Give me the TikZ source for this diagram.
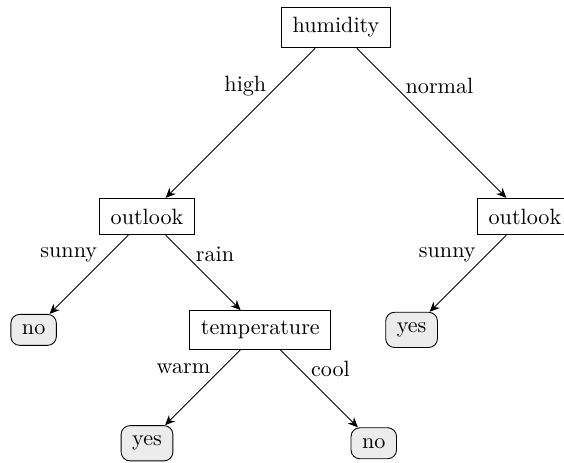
\documentclass[tikz,border=0pt]{standalone}
\usetikzlibrary{arrows.meta}

\begin{document}
\begin{tikzpicture}[
    >={Stealth[length=4.5pt,width=4pt]},
    test/.style={
        draw,
        inner xsep=5pt,
        inner ysep=4.7pt,
    },
    leaf/.style={
        draw,
        rounded corners=4pt,
        fill=gray!15,
        inner xsep=5pt,
        inner ysep=4.7pt,
    },
    branch/.style={->,line width=0.4pt},
    cond/.style={inner sep=5pt,pos=0.25},
]
\useasboundingbox (-5.334,-6.898) rectangle (3.62,0.437);

% Root
\node[test] (humidity) at (0,0) {humidity};

% Level 1
\node[test] (outlookA) at (-3,-3) {outlook};
\node[test] (outlookB) at (3,-3) {outlook};

% Level 2
\node[leaf] (noA) at (-4.8,-4.8) {no};
\node[test] (temp) at (-1.2,-4.8) {temperature};
\node[leaf] (yesB) at (1.2,-4.8) {yes};

% Level 3
\node[leaf] (yesC) at (-3,-6.6) {yes};
\node[leaf] (noC) at (0.6,-6.6) {no};

% Branches
\draw[branch] (humidity) -- node[cond,left] {high} (outlookA);
\draw[branch] (humidity) -- node[cond,right] {normal} (outlookB);
\draw[branch] (outlookA) -- node[cond,left] {sunny} (noA);
\draw[branch] (outlookA) -- node[cond,right] {rain} (temp);
\draw[branch] (outlookB) -- node[cond,left] {sunny} (yesB);
\draw[branch] (temp) -- node[cond,left] {warm} (yesC);
\draw[branch] (temp) -- node[cond,right] {cool} (noC);

\end{tikzpicture}
\end{document}
